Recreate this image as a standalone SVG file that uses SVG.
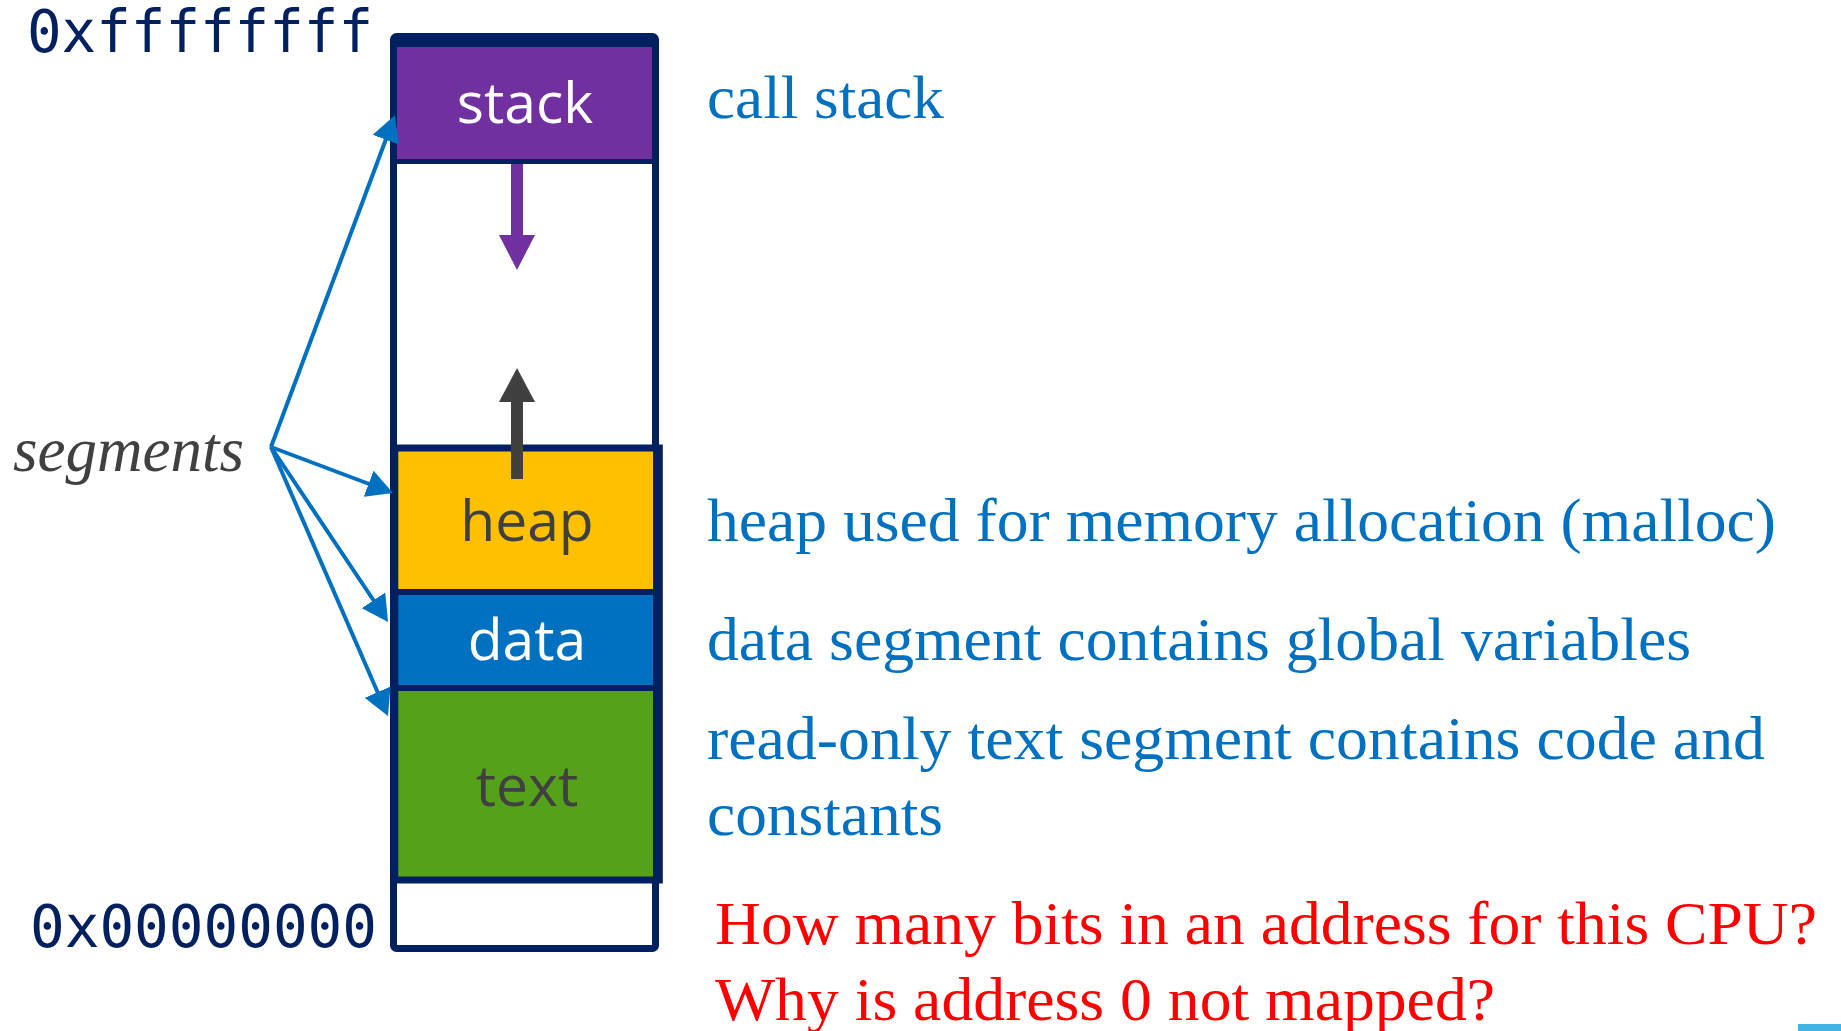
<svg xmlns="http://www.w3.org/2000/svg" width="1841" height="1031" viewBox="0 0 1841 1031">
  <style>
    .addr { font-family: "DejaVu Sans Mono", "Liberation Mono", monospace; font-size: 58px; fill: #002060; }
    .seg { font-family: "Open Sans", "Noto Sans", sans-serif; font-size: 57px; text-anchor: middle; }
    .note { font-family: "Liberation Serif", "Times New Roman", serif; font-size: 62px; fill: #0070C0; }
    .q { font-family: "Liberation Serif", "Times New Roman", serif; font-size: 62px; fill: #FF0000; }
    .div { fill: #002060; }
    .ptr { stroke: #0070C0; stroke-width: 4; fill: none; marker-end: url(#blueHead); }
  </style>
  <defs>
    <marker id="blueHead" markerUnits="userSpaceOnUse" markerWidth="26" markerHeight="28" refX="2" refY="14" orient="auto">
      <path d="M0,0 L26,14 L0,28 z" fill="#0070C0"/>
    </marker>
  </defs>

  <rect width="1841" height="1031" fill="#ffffff"/>

  <!-- address labels -->
  <text class="addr" x="27" y="52" textLength="346" lengthAdjust="spacingAndGlyphs">0xffffffff</text>
  <text class="addr" x="30" y="947" textLength="347" lengthAdjust="spacingAndGlyphs">0x00000000</text>

  <!-- whole address space -->
  <g id="address-space">
    <rect x="393.5" y="36.5" width="262" height="912" rx="3" fill="#ffffff" stroke="#002060" stroke-width="7"/>
  </g>

  <g id="stack">
    <rect x="397" y="40" width="255" height="124" class="div"/>
    <rect x="397" y="47" width="255" height="112" fill="#7030A0"/>
    <text class="seg" x="525" y="123" fill="#ffffff">stack</text>
  </g>

  <g id="heap">
    <rect x="398" y="451" width="255" height="138" fill="#FFC000"/>
    <text class="seg" x="527" y="541" fill="#404040">heap</text>
  </g>

  <g id="data">
    <rect x="398" y="589" width="255" height="6" class="div"/>
    <rect x="398" y="595" width="255" height="90" fill="#0070C0"/>
    <text class="seg" x="527" y="660" fill="#ffffff">data</text>
  </g>

  <g id="text-seg">
    <rect x="398" y="685" width="255" height="6" class="div"/>
    <rect x="398" y="691" width="255" height="186" fill="#56A11A"/>
    <text class="seg" x="527" y="806" fill="#404040">text</text>
  </g>

  <!-- outline of the mapped segment block -->
  <rect x="394.8" y="448" width="264.5" height="432" fill="none" stroke="#002060" stroke-width="7"/>

  <!-- growth arrows and segment pointers -->
  <g id="connectors">
    <rect x="511" y="164" width="12" height="72" fill="#7030A0"/>
    <polygon points="499,235 535,235 517,270" fill="#7030A0"/>
    <rect x="511" y="401" width="12" height="78" fill="#404040"/>
    <polygon points="499,402 535,402 517,368" fill="#404040"/>

    <line class="ptr" x1="271" y1="447" x2="386.5" y2="137.8"/>
    <line class="ptr" x1="271" y1="447" x2="370.5" y2="484.5"/>
    <line class="ptr" x1="271" y1="447" x2="374.7" y2="602.0"/>
    <line class="ptr" x1="271" y1="447" x2="378.4" y2="694.0"/>
  </g>

  <g id="segments-label">
    <text x="13" y="471" font-family="Liberation Serif, Times New Roman, serif" font-style="italic" font-size="63" fill="#404040" textLength="231" lengthAdjust="spacingAndGlyphs">segments</text>
  </g>

  <!-- descriptions -->
  <g id="notes">
    <text class="note" x="707" y="118" textLength="237" lengthAdjust="spacingAndGlyphs">call stack</text>
    <text class="note" x="707" y="541" textLength="1069" lengthAdjust="spacingAndGlyphs">heap used for memory allocation (malloc)</text>
    <text class="note" x="707" y="660" textLength="984" lengthAdjust="spacingAndGlyphs">data segment contains global variables</text>
    <text class="note" x="707" y="759" textLength="1058" lengthAdjust="spacingAndGlyphs">read-only text segment contains code and</text>
    <text class="note" x="707" y="835" textLength="236" lengthAdjust="spacingAndGlyphs">constants</text>
  </g>

  <g id="questions">
    <text class="q" x="715" y="944" textLength="1102" lengthAdjust="spacingAndGlyphs">How many bits in an address for this CPU?</text>
    <text class="q" x="715" y="1020" textLength="780" lengthAdjust="spacingAndGlyphs">Why is address 0 not mapped?</text>
  </g>

  <rect x="1798" y="1024" width="43" height="7" fill="#41B6E6"/>
</svg>
